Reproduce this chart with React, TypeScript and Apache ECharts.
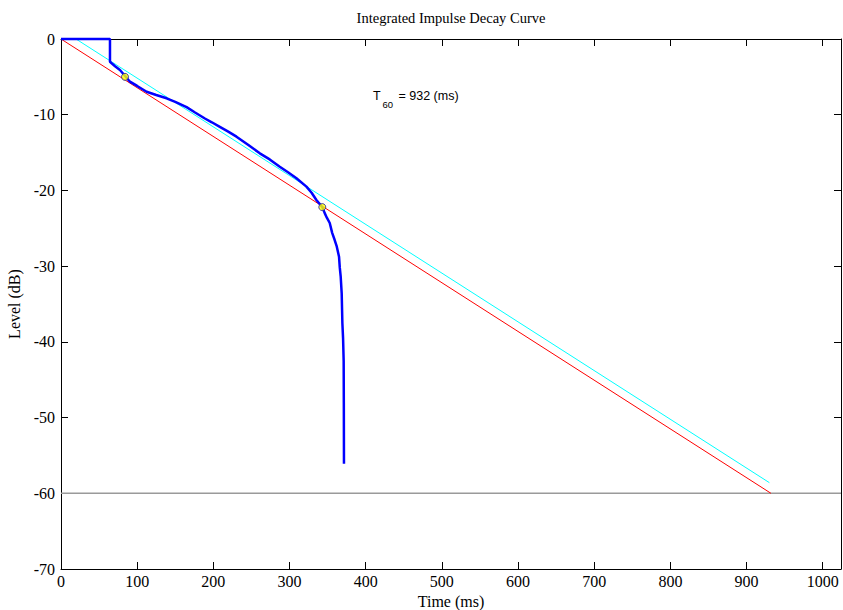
import React, { useEffect, useRef } from "react";
import * as echarts from "echarts";

// Integrated decay curve (Schroeder), time in ms, level in dB
const decayTime = [0, 64.3, 64.3, 66.5, 71, 77.4, 83.9, 90.5, 100, 112.4, 125, 138.6, 150, 164.9, 176, 188.9, 198, 208.5, 219, 230.4, 246, 261, 274, 287.2, 298, 309.1, 322.2, 329, 335.3, 343.2, 346.2, 349, 352.8, 356, 359.3, 362, 365, 366, 367.2, 368.5, 369.4, 370.3, 371.1, 371.3, 371.5];
const decayLevel = [0, 0, -3.0, -3.2, -3.6, -4.1, -4.85, -5.64, -6.2, -6.96, -7.4, -7.83, -8.3, -9.0, -9.7, -10.5, -11.0, -11.6, -12.2, -12.9, -14.0, -15.1, -15.9, -16.87, -17.6, -18.4, -19.5, -20.3, -21.27, -22.23, -23.0, -23.6, -24.3, -25.6, -26.55, -27.4, -28.75, -30.2, -31.4, -33.6, -37.55, -39.5, -42.6, -48.0, -56.1];

// evaluation points
const pointTime = [84, 343];
const pointLevel = [-5.0, -22.2];

// fitted lines
const redTime = [0, 932];
const redLevel = [0, -60];
const cyanTime = [19.7, 930];
const cyanLevel = [0, -58.6];

// -60 dB reference
const refTime = [0, 1024];
const refLevel = [-60, -60];

const xTicks = [0, 100, 200, 300, 400, 500, 600, 700, 800, 900, 1000];
const yTicks = [0, -10, -20, -30, -40, -50, -60, -70];

const t60Value = 932;

const zip = (a: number[], b: number[]) => a.map((v, i) => [v, b[i]]);

export default function App() {
  const ref = useRef<HTMLDivElement>(null);
  useEffect(() => {
    if (!ref.current) return;
    const chart = echarts.init(ref.current, null, { renderer: "svg" });
    const serif = "'Liberation Serif', 'Times New Roman', serif";
    const sans = "'Liberation Sans', Arial, sans-serif";
    const tickStyle = { show: true, inside: true, length: 7, lineStyle: { color: "#000", width: 1 } };
    const lineStyle = { show: true, onZero: false, lineStyle: { color: "#000", width: 1 } };
    const gridLeft = 61, gridTop = 39, gridW = 780, gridH = 530;
    chart.setOption({
      animation: false,
      backgroundColor: "#fff",
      grid: { left: gridLeft, top: gridTop, width: gridW, height: gridH, containLabel: false, outerBoundsMode: "none" },
      xAxis: [
        {
          type: "value", min: 0, max: 1024, interval: 100, position: "bottom",
          axisLine: lineStyle, axisTick: tickStyle, splitLine: { show: false },
          axisLabel: {
            color: "#000", fontFamily: serif, fontSize: 16, margin: 4,
            formatter: (v: number) => (xTicks.includes(v) ? String(v) : ""),
          },
          name: "Time (ms)", nameLocation: "middle", nameGap: 21,
          nameTextStyle: { color: "#000", fontFamily: serif, fontSize: 16 },
        },
        {
          type: "value", min: 0, max: 1024, interval: 100, position: "top",
          axisLine: lineStyle, axisTick: tickStyle, splitLine: { show: false },
          axisLabel: { show: false },
        },
      ],
      yAxis: [
        {
          type: "value", min: -70, max: 0, interval: 10, position: "left",
          axisLine: lineStyle, axisTick: tickStyle, splitLine: { show: false },
          axisLabel: {
            color: "#000", fontFamily: serif, fontSize: 16, margin: 6,
            formatter: (v: number) => (yTicks.includes(v) ? String(v) : ""),
          },
          name: "Level (dB)", nameLocation: "middle", nameGap: 36, nameRotate: 90,
          nameTextStyle: { color: "#000", fontFamily: serif, fontSize: 16 },
        },
        {
          type: "value", min: -70, max: 0, interval: 10, position: "right",
          axisLine: lineStyle, axisTick: tickStyle, splitLine: { show: false },
          axisLabel: { show: false },
        },
      ],
      series: [
        {
          type: "line", data: zip(refTime, refLevel), showSymbol: false, symbol: "none",
          lineStyle: { color: "#9a9a9a", width: 1.5 }, clip: false, z: 1,
        },
        {
          type: "line", data: zip(redTime, redLevel), showSymbol: false, symbol: "none",
          lineStyle: { color: "#ff0000", width: 1 }, clip: false, z: 2,
        },
        {
          type: "line", data: zip(cyanTime, cyanLevel), showSymbol: false, symbol: "none",
          lineStyle: { color: "#00ffff", width: 1 }, clip: false, z: 2,
        },
        {
          type: "line", data: zip(decayTime, decayLevel), showSymbol: false, symbol: "none",
          lineStyle: { color: "#0000ff", width: 2.5 }, clip: false, z: 3,
        },
        {
          type: "scatter", data: zip(pointTime, pointLevel), symbol: "circle", symbolSize: 7,
          itemStyle: { color: "#ffff00", borderColor: "#2020a0", borderWidth: 1 }, z: 4,
        },
      ],
      graphic: [
        {
          type: "text", x: gridLeft + gridW / 2, y: 18,
          style: { text: "Integrated Impulse Decay Curve", fill: "#000", font: `14.5px ${serif}`, align: "center", verticalAlign: "middle" },
        },
        {
          type: "text", x: 373, y: 96,
          style: { text: "T", fill: "#000", font: `12.5px ${sans}`, align: "left", verticalAlign: "middle" },
        },
        {
          type: "text", x: 382.5, y: 104.5,
          style: { text: "60", fill: "#000", font: `9.5px ${sans}`, align: "left", verticalAlign: "middle" },
        },
        {
          type: "text", x: 398.5, y: 96,
          style: { text: `= ${t60Value} (ms)`, fill: "#000", font: `12.5px ${sans}`, align: "left", verticalAlign: "middle" },
        },
      ],
    });
    return () => chart.dispose();
  }, []);
  return <div ref={ref} style={{ position: "fixed", left: 0, top: 0, width: 843, height: 610 }} />;
}
